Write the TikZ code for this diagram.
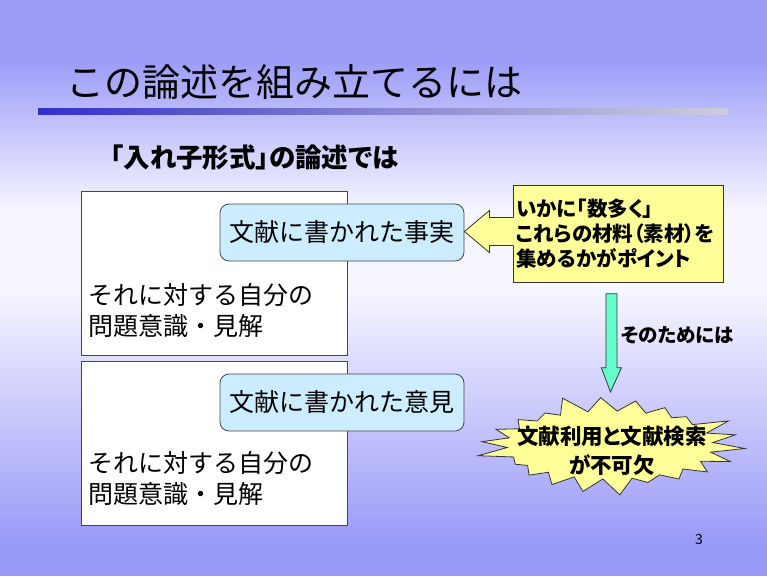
\documentclass[tikz,border=0pt]{standalone}
\usepackage{fontspec}
\setmainfont{Noto Sans CJK JP}
\newfontfamily\jpp[RawFeature=+palt]{Noto Sans CJK JP}
\usetikzlibrary{calc}
\definecolor{bgtop}{RGB}{156,156,248}
\definecolor{bgmid}{RGB}{246,246,255}
\definecolor{bgbot}{RGB}{154,154,248}
\definecolor{barblue}{RGB}{48,48,200}
\definecolor{bargray}{RGB}{205,205,220}
\definecolor{factblue}{RGB}{204,236,255}
\definecolor{calloutyellow}{RGB}{255,255,153}
\definecolor{arrowgreen}{RGB}{102,255,204}
\definecolor{edgegray}{RGB}{70,70,70}
\tikzset{
  outerbox/.style={draw=edgegray, fill=white, line width=0.8pt, minimum width=266pt, minimum height=164pt, anchor=north west, inner sep=0pt},
  factbox/.style={draw=edgegray, fill=factblue, line width=0.8pt, rounded corners=9pt, minimum width=244pt, minimum height=57pt, inner sep=0pt, font=\fontsize{25}{28}\selectfont},
  viewtext/.style={anchor=west, align=left, inner sep=0pt, font=\fontsize{25}{31}\selectfont},
  callbox/.style={draw=black!80, fill=calloutyellow, line width=0.8pt, minimum width=210pt, minimum height=97pt, text width=204pt, inner xsep=3pt, inner ysep=0pt, align=left, anchor=north west, font=\jpp\bfseries\fontsize{20.5}{25}\selectfont},
  yarrow/.style={fill=calloutyellow},
  yarrowline/.style={draw=black!80, line width=0.8pt, line join=miter},
  garrow/.style={draw=black!80, fill=arrowgreen, line width=0.8pt},
  burstshape/.style={draw=black!80, fill=calloutyellow, line width=0.8pt},
  bursttext/.style={align=center, inner sep=0pt, font=\jpp\bfseries\fontsize{21.5}{29}\selectfont},
}
\begin{document}
\begin{tikzpicture}[x=1pt,y=-1pt]
\useasboundingbox (0,0) rectangle (767,576);
% background
\fill[bgtop] (0,0) rectangle (767,61);
\shade[top color=bgtop, bottom color=bgmid] (0,60) rectangle (767,211);
\fill[bgmid] (0,210) rectangle (767,291);
\shade[top color=bgmid, bottom color=bgbot] (0,290) rectangle (767,541);
\fill[bgbot] (0,540) rectangle (767,576);
% title
\node[anchor=west, inner sep=0pt, font=\fontsize{38}{40}\selectfont] (title) at (66,82) {この論述を組み立てるには};
\shade[left color=barblue, right color=bargray, middle color=barblue!45!bargray] (38,108) rectangle (728,114);
% subtitle
\node[anchor=west, inner sep=0pt, font=\jpp\bfseries\fontsize{26.5}{28}\selectfont] (sub) at (110,157) {「入れ子形式」の論述では};
% boxes
\node[outerbox] (box1) at (81,191) {};
\node[outerbox] (box2) at (81,361) {};
\node[factbox] (fact1) at (342,232.5) {文献に書かれた事実};
\node[factbox] (fact2) at (342,402.5) {文献に書かれた意見};
\node[viewtext] (view1) at (88,311) {それに対する自分の\\問題意識・見解};
\node[viewtext] (view2) at (88,479) {それに対する自分の\\問題意識・見解};
% callout
\node[callbox] (call) at (513,185) {いかに「数多く」\\これらの材料（素材）を\\集めるかがポイント};
\coordinate (ctip) at ($(fact1.east)+(0,-1)$);
\coordinate (cjoin) at (call.west |- ctip);
\fill[yarrow] (ctip) -- ($(ctip)+(25,-21)$) -- ($(ctip)+(25,-14)$) -- ($(cjoin)+(1.5,-14)$) -- ($(cjoin)+(1.5,14)$) -- ($(ctip)+(25,14)$) -- ($(ctip)+(25,21)$) -- cycle;
\draw[yarrowline] ($(cjoin)+(0,-14)$) -- ($(ctip)+(25,-14)$) -- ($(ctip)+(25,-21)$) -- (ctip) -- ($(ctip)+(25,21)$) -- ($(ctip)+(25,14)$) -- ($(cjoin)+(0,14)$);
% starburst
\coordinate (bc) at (610,445);
\begin{scope}[shift={(bc)}]
\draw[burstshape] plot[samples at={0,...,43}] ({(mod(\x,2)==0 ? 135*(1-0.05*mod(\x*3,5)) : 103)*cos(\x*360/44+4)}, {(mod(\x,2)==0 ? 50*(1-0.05*mod(\x*3,5)) : 34)*sin(\x*360/44+4)}) -- cycle;
\end{scope}
\node[bursttext] (burst) at ($(bc)+(2,6)$) {文献利用と文献検索\\が不可欠};
% down arrow
\coordinate (dtop) at ($(call.south)+(-7,11)$);
\coordinate (dtip) at ($(bc)+(0.5,-53)$);
\draw[garrow] ($(dtop)+(-5.5,0)$) -- ($(dtop)+(5.5,0)$) -- ($(dtop)+(5.5,74)$) -- ($(dtop)+(10,74)$) -- (dtip) -- ($(dtop)+(-10,74)$) -- ($(dtop)+(-5.5,74)$) -- cycle;
\node[anchor=west, inner sep=0pt, font=\jpp\bfseries\fontsize{19.5}{22}\selectfont] (why) at (621,335) {そのためには};
% page number
\node[inner sep=0pt, font=\fontsize{14}{16}\selectfont] (page) at (699,539) {3};
\end{tikzpicture}
\end{document}
